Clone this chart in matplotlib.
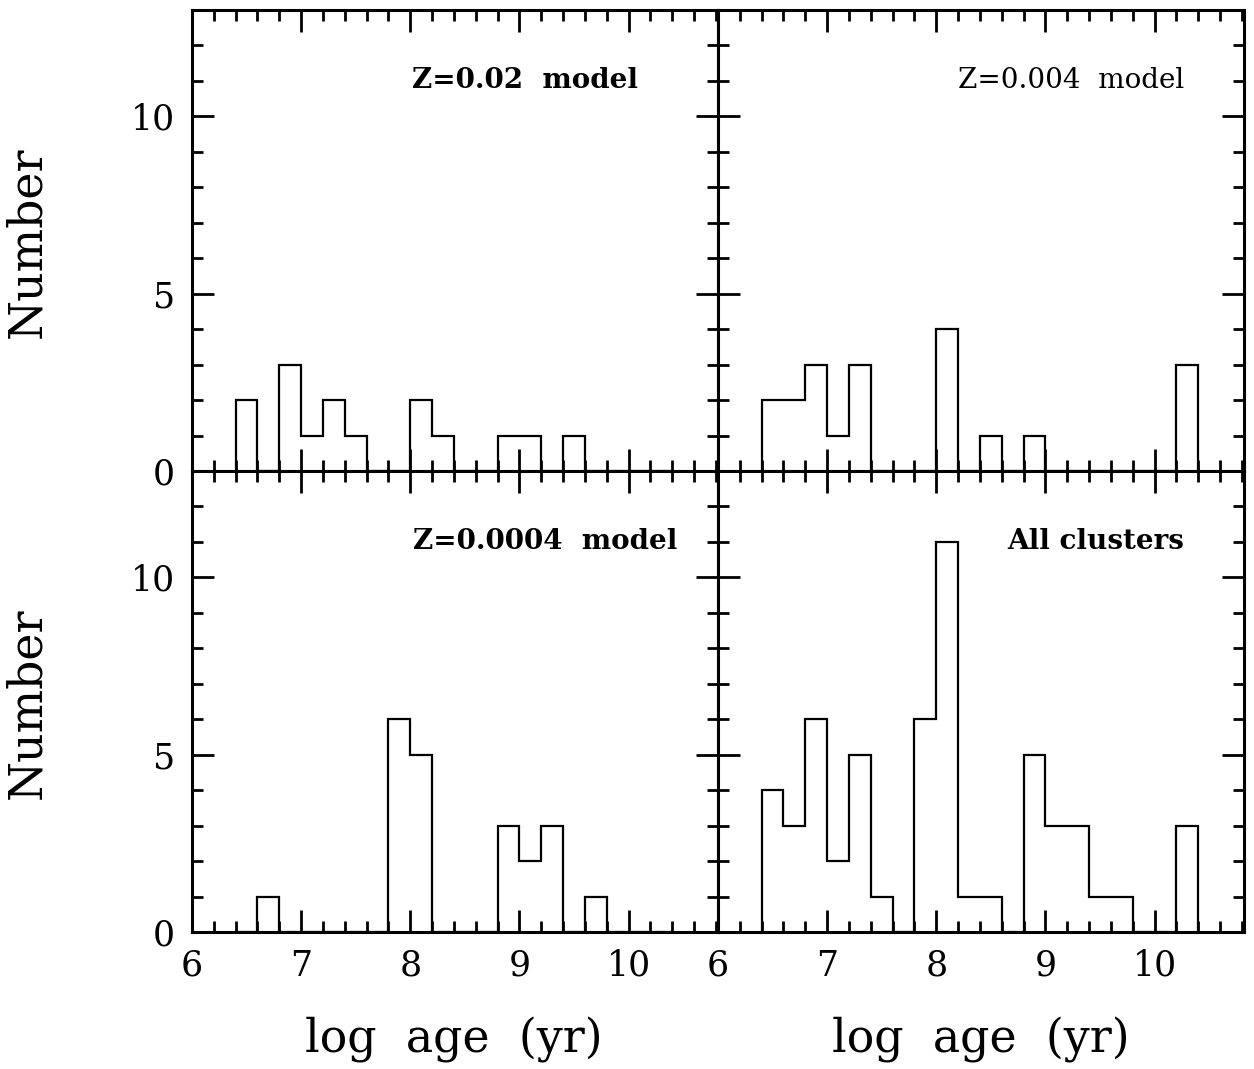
import matplotlib
matplotlib.use("Agg")
import matplotlib.pyplot as plt
import numpy as np
from matplotlib.ticker import MultipleLocator, FixedLocator

# histogram counts in bins of 0.2 dex, first bin starts at log age 6.4
bin_start = 6.4
bin_width = 0.2
z002 = [2, 0, 3, 1, 2, 1, 0, 0, 2, 1, 0, 0, 1, 1, 0, 1, 0, 0, 0, 0]
z0004 = [2, 2, 3, 1, 3, 0, 0, 0, 4, 0, 1, 0, 1, 0, 0, 0, 0, 0, 0, 3]
z00004 = [0, 1, 0, 0, 0, 0, 0, 6, 5, 0, 0, 0, 3, 2, 3, 0, 1, 0, 0, 0]
all_clusters = [4, 3, 6, 2, 5, 1, 0, 6, 11, 1, 1, 0, 5, 3, 3, 1, 1, 0, 0, 3]

titles = ["Z=0.02  model", "Z=0.004  model", "Z=0.0004  model", "All clusters"]
weights = ["bold", "normal", "bold", "bold"]
title_x = [10.09, 10.27, 10.45, 10.27]

plt.rcParams['font.family'] = ['DejaVu Serif']

fig = plt.figure(figsize=(12.54, 10.69), dpi=100)
W, H = 1254, 1069
left, right = 192 / W, 1244 / W
top, mid, bot = 1 - 10 / H, 1 - 471 / H, 1 - 935 / H
pw = (right - left) / 2
ph = top - mid

series = [z002, z0004, z00004, all_clusters]
edges = bin_start + bin_width * np.arange(len(z002) + 1)

for i, counts in enumerate(series):
    row, col = divmod(i, 2)
    ax = fig.add_axes([left + col * pw, mid - row * ph, pw, ph])
    ax.stairs(counts, edges, color='black', lw=1.6, baseline=0)
    ax.set_xlim(6, 10.82)
    ax.set_ylim(0, 13)
    ax.xaxis.set_major_locator(FixedLocator([6, 7, 8, 9, 10]))
    ax.xaxis.set_minor_locator(MultipleLocator(0.2))
    ax.yaxis.set_major_locator(FixedLocator([0, 5, 10]))
    ax.yaxis.set_minor_locator(MultipleLocator(1))
    ax.tick_params(which='both', direction='in', top=True, right=True,
                   width=2, labelsize=25, pad=12)
    ax.tick_params(which='major', length=16)
    ax.tick_params(which='minor', length=8)
    for s in ax.spines.values():
        s.set_linewidth(2.2)
    if row == 0:
        ax.set_xticklabels([])
    if col == 1:
        ax.set_yticklabels([])
    ax.text(title_x[i], 11, titles[i], ha='right', va='center',
            fontsize=20, fontweight=weights[i])

fig.text(28 / W, 1 - 242 / H, "Number", rotation=90, ha='center', va='center', fontsize=33)
fig.text(28 / W, 1 - 703 / H, "Number", rotation=90, ha='center', va='center', fontsize=33)
fig.text(454 / W, 1 - 1040 / H, "log  age  (yr)", ha='center', va='center', fontsize=33)
fig.text(981 / W, 1 - 1040 / H, "log  age  (yr)", ha='center', va='center', fontsize=33)

fig.savefig("out.png", dpi=100)
